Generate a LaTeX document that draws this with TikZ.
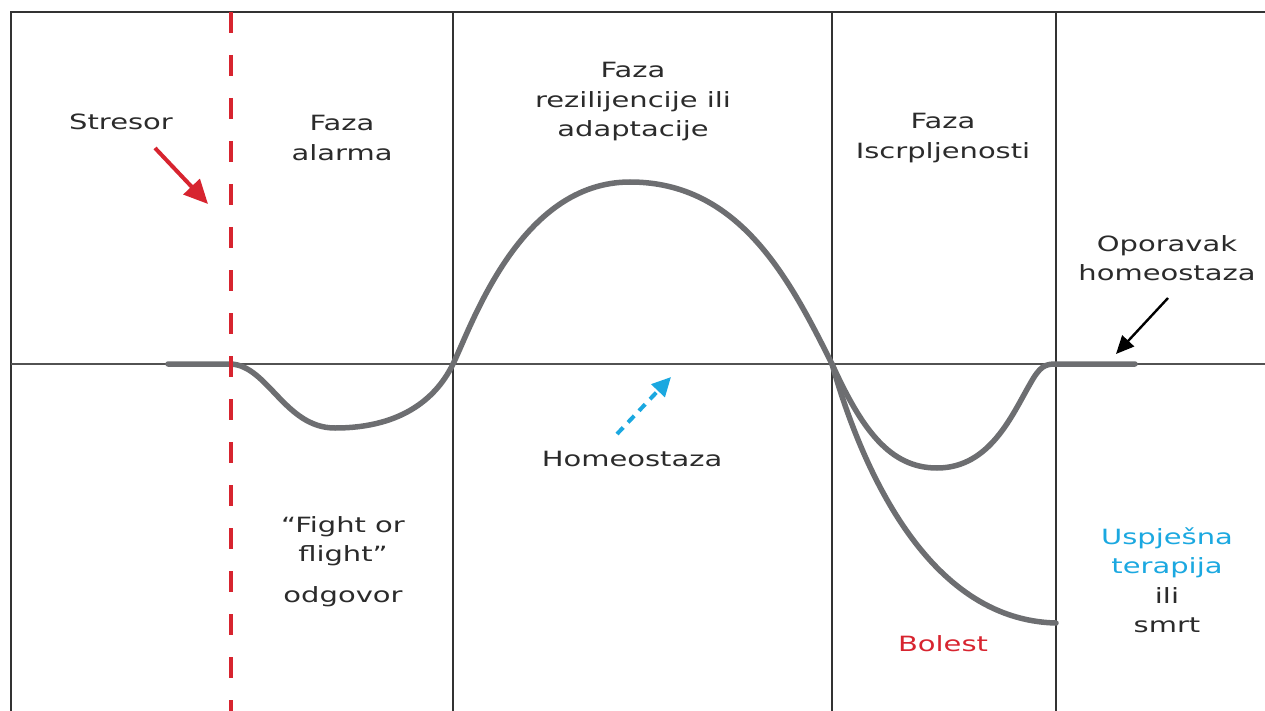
\documentclass[tikz,border=0pt]{standalone}
\usepackage{fontspec}
\setmainfont{DejaVu Sans}[FakeStretch=1.38]
\usetikzlibrary{arrows.meta}
\definecolor{curvegray}{HTML}{6D6E71}
\definecolor{gridline}{HTML}{333333}
\definecolor{txt}{HTML}{2B2B2B}
\definecolor{stresred}{HTML}{D7242F}
\definecolor{homeblue}{HTML}{1BA8E0}
\tikzset{
  lbl/.style={font=\fontsize{21}{29.5}\selectfont, text=txt, align=center, inner sep=0pt},
  gridln/.style={draw=gridline, line width=1.3pt},
  curve/.style={draw=curvegray, line width=5.5pt, line cap=round},
}
\begin{document}
\begin{tikzpicture}[x=1pt,y=-1pt]
\useasboundingbox (0,0) rectangle (1265,711);
% frame and grid
\draw[gridln] (11,711) -- (11,12) -- (1265,12);
\draw[gridln] (453,12) -- (453,711);
\draw[gridln] (832,12) -- (832,711);
\draw[gridln] (1056,12) -- (1056,711);
\draw[draw=gridline!85, line width=1.3pt] (11,364) -- (1265,364);
% curve
\draw[curve] (168,364) -- (231,364)
  .. controls (268,366) and (285,428) .. (335,428)
  .. controls (405,428) and (438,395) .. (453,364)
  .. controls (472,325) and (520,182) .. (630,182)
  .. controls (740,182) and (790,280) .. (832,364)
  .. controls (862,430) and (890,468) .. (937,468)
  .. controls (990,468) and (1012,415) .. (1030,384)
  .. controls (1040,366) and (1045,364) .. (1056,364) -- (1135,364);
\draw[curve] (832,364) .. controls (860,462) and (925,620) .. (1056,623);
% stressor dashed line
\draw[stresred, line width=4.2pt, dash pattern=on 21pt off 22pt] (231,12) -- (231,711);
% labels
\node[lbl] (stresor) at (121,122) {Stresor};
\node[lbl] (alarm) at (342,138) {Faza\\alarma};
\node[lbl] (rezil) at (633,102) {Faza\\rezilijencije ili\\adaptacije};
\node[lbl] (iscrp) at (943,138) {Faza\\Iscrpljenosti};
\node[lbl] (oporavak) at (1167,258) {Oporavak\\homeostaza};
\node[lbl] (homeo) at (632,459) {Homeostaza};
\node[lbl] (fight) at (343,541) {“Fight or\\flight”};
\node[lbl] (odgovor) at (343,597) {odgovor};
\node[lbl] (terapija) at (1167,580) {\textcolor{homeblue}{Uspješna}\\\textcolor{homeblue}{terapija}\\ili\\smrt};
\node[lbl, text=stresred] (bolest) at (943,644) {Bolest};
% arrows
\coordinate (sA) at (155,148);
\coordinate (sB) at (208,204);
\draw[stresred, line width=4pt, -{Triangle[length=24pt,width=22pt]}] (sA) -- (sB);
\coordinate (oA) at (1168,298);
\coordinate (oB) at (1116,354);
\draw[black, line width=2.4pt, -{Triangle[length=18pt,width=16pt]}] (oA) -- (oB);
\coordinate (hA) at (617,434);
\coordinate (hB) at (671,377);
\draw[homeblue, line width=4pt, dash pattern=on 9pt off 7pt, -{Triangle[length=19pt,width=18pt]}] (hA) -- (hB);
\end{tikzpicture}
\end{document}
